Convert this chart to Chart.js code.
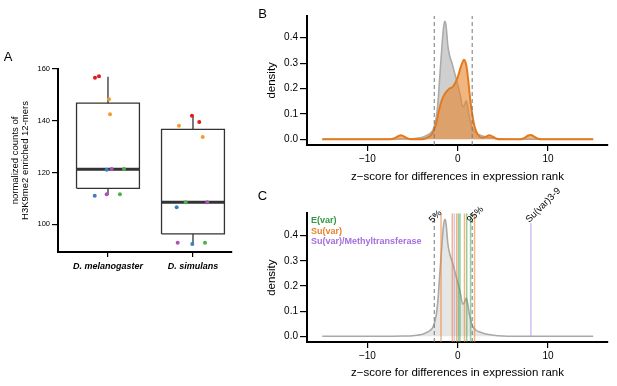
<!DOCTYPE html>
<html>
<head>
<meta charset="utf-8">
<script src="https://cdn.jsdelivr.net/npm/chart.js@4.4.1/dist/chart.umd.min.js"></script>
<style>
  body { margin: 0; background: #fff; }
  #wrap { position: relative; width: 617px; height: 386px; overflow: hidden; }
  canvas { position: absolute; }
</style>
</head>
<body>
<div id="wrap">
  <canvas id="boxChart" width="240" height="386" style="left:0;top:0"></canvas>
  <canvas id="densityChart" width="377" height="190" style="left:240px;top:0"></canvas>
  <canvas id="genesChart" width="377" height="208" style="left:240px;top:178px"></canvas>
</div>
<script>
// ---- panel A data ----
const categories = ['D. melanogaster', 'D. simulans'];
// [lower whisker, q1, median, q3, upper whisker]
const melStats = [111.3, 113.9, 121.3, 146.8, 157.0];
const simStats = [92.4, 96.3, 108.5, 136.7, 141.9];
const melCounts = [156.6, 157.2, 148.3, 142.5, 121.1, 121.4, 121.4, 111.0, 111.6, 111.6];
const melJitter = [0.847, 0.894, 1.012, 1.024, 0.985, 1.044, 1.188, 0.844, 0.985, 1.141];
const melGroups = [0, 0, 1, 1, 2, 3, 4, 2, 3, 4];
const simCounts = [141.9, 139.5, 138.1, 133.7, 106.6, 108.5, 108.5, 92.4, 92.9, 92.9];
const simJitter = [1.988, 2.074, 1.835, 2.114, 1.808, 1.914, 2.168, 1.992, 1.82, 2.141];
const simGroups = [0, 0, 1, 1, 2, 4, 3, 2, 3, 4];
const countTicks = [100, 120, 140, 160];

// ---- panel B / C data ----
const zTicks = [-10, 0, 10];
const densityTicks = [0, 0.1, 0.2, 0.3, 0.4];
const allGenesZ = [-15, -8, -6, -5, -4.5, -4, -3.5, -3, -2.7, -2.4, -2.2, -2.0, -1.8, -1.6, -1.45, -1.3, -1.1, -0.9, -0.6, -0.3, 0, 0.3, 0.55, 0.75, 0.95, 1.1, 1.3, 1.6, 2.0, 2.5, 3.0, 4.0, 5.0, 6.0, 15];
const allGenesDensity = [0, 0, 0.001, 0.002, 0.004, 0.007, 0.014, 0.025, 0.04, 0.08, 0.14, 0.24, 0.34, 0.43, 0.465, 0.45, 0.37, 0.33, 0.295, 0.255, 0.215, 0.17, 0.128, 0.135, 0.152, 0.13, 0.085, 0.045, 0.025, 0.016, 0.01, 0.004, 0.001, 0, 0];
const pevZ = [-15, -7.5, -7, -6.6, -6.3, -6.0, -5.6, -5.2, -4, -3.5, -3.0, -2.7, -2.4, -2.1, -1.8, -1.5, -1.2, -0.9, -0.6, -0.3, 0, 0.3, 0.55, 0.7, 0.85, 1.0, 1.2, 1.4, 1.6, 1.8, 2.0, 2.3, 2.7, 3.1, 3.5, 3.9, 4.3, 4.8, 7.0, 7.4, 7.8, 8.1, 8.5, 8.9, 9.3, 15];
const pevDensity = [0, 0, 0.004, 0.012, 0.016, 0.012, 0.004, 0, 0, 0.004, 0.015, 0.03, 0.06, 0.11, 0.15, 0.175, 0.19, 0.2, 0.205, 0.22, 0.245, 0.28, 0.305, 0.313, 0.305, 0.28, 0.22, 0.15, 0.1, 0.06, 0.035, 0.015, 0.006, 0.01, 0.016, 0.01, 0.002, 0, 0, 0.006, 0.015, 0.017, 0.01, 0.002, 0, 0];
const cutoffs = [-2.6, 1.6];
const cutoffLabels = ['5%', '95%'];
const evarGenes = [0.09, 0.25, 1.0, 1.42];
const suvarGenes = [-1.85, -0.6, -0.11, 0.75, 1.86];
const methylGenes = [-0.37];
const suvar39 = 8.1;
const suvar39Top = 0.45;

const FONT = "'Liberation Sans', Arial, sans-serif";
Chart.defaults.font.family = FONT;
Chart.defaults.color = '#000';
Chart.defaults.animation = false;

const groupColors = ['#e41a1c', '#f39b2f', '#3a7fc1', '#a853b5', '#4daf4a'];
const BOX_HALF = 0.37;

function pts(xs, ys) {
    return xs.map((x, i) => ({ x: x, y: ys[i] }));
}
function minus(v) {
    return v < 0 ? '\u2212' + Math.abs(v) : String(v);
}

function panelLetter(letter, x, y) {
    return {
        id: 'letter' + letter,
        afterDraw(chart) {
            const ctx = chart.ctx;
            ctx.save();
            ctx.font = '13px ' + FONT;
            ctx.fillStyle = '#000';
            ctx.textAlign = 'center';
            ctx.textBaseline = 'middle';
            ctx.fillText(letter, x, y);
            ctx.restore();
        }
    };
}

function axisStyle(tickLen) {
    return {
        border: { display: true, color: '#000', width: 2 },
        grid: { display: true, drawOnChartArea: false, drawTicks: true, tickLength: tickLen, color: '#000', lineWidth: 1.2 }
    };
}

// ---------------- panel A ----------------
function boxDatasets(c, s) {
    const line = { showLine: true, pointRadius: 0, borderColor: '#333', borderWidth: 1.3, fill: false };
    return [
        Object.assign({}, line, { data: [{x: c - BOX_HALF, y: s[2]}, {x: c + BOX_HALF, y: s[2]}], borderWidth: 3 }),
        Object.assign({}, line, { data: [
            {x: c - BOX_HALF, y: s[1]}, {x: c + BOX_HALF, y: s[1]}, {x: c + BOX_HALF, y: s[3]},
            {x: c - BOX_HALF, y: s[3]}, {x: c - BOX_HALF, y: s[1]}] }),
        Object.assign({}, line, { data: [{x: c, y: s[3]}, {x: c, y: s[4]}] }),
        Object.assign({}, line, { data: [{x: c, y: s[0]}, {x: c, y: s[1]}] })
    ];
}
function pointDataset(jit, vals, groups) {
    return {
        data: pts(jit, vals),
        showLine: false,
        pointRadius: 2,
        pointBorderWidth: 0,
        pointBackgroundColor: groups.map(g => groupColors[g]),
        pointBorderColor: groups.map(g => groupColors[g])
    };
}

new Chart(document.getElementById('boxChart'), {
    type: 'scatter',
    data: {
        datasets: [
            pointDataset(melJitter, melCounts, melGroups),
            pointDataset(simJitter, simCounts, simGroups),
            ...boxDatasets(1, melStats),
            ...boxDatasets(2, simStats)
        ]
    },
    options: {
        responsive: false,
        layout: { padding: { top: 69, right: 8, left: 0, bottom: 94 } },
        plugins: { legend: { display: false }, tooltip: { enabled: false } },
        scales: {
            x: Object.assign(axisStyle(5), {
                type: 'linear', min: 0.412, max: 2.459,
                afterBuildTicks: s => { s.ticks = [1, 2].map(v => ({ value: v })); },
                afterFit: s => { s.height = 40; },
                ticks: {
                    autoSkip: false, maxRotation: 0, padding: 4,
                    font: { size: 9, weight: 'bold', style: 'italic' },
                    callback: v => categories[v - 1]
                }
            }),
            y: Object.assign(axisStyle(6), {
                type: 'linear', min: 89.3, max: 160,
                afterBuildTicks: s => { s.ticks = countTicks.map(v => ({ value: v })); },
                afterFit: s => { s.width = 58; },
                ticks: { autoSkip: false, padding: 2, font: { size: 7.5 } },
                title: {
                    display: true,
                    text: ['normalized counts of', 'H3K9me2 enriched 12-mers'],
                    font: { size: 9.5, lineHeight: 1.1 },
                    padding: { top: 9.8 }
                }
            })
        }
    },
    plugins: [panelLetter('A', 8, 57)]
});

// ---------------- panels B and C ----------------
const Z_MIN = -16.69, Z_MAX = 16.64;

function densityScales(yMin, yMax, xHeight) {
    return {
        x: Object.assign(axisStyle(6), {
            type: 'linear', min: Z_MIN, max: Z_MAX,
            afterBuildTicks: s => { s.ticks = zTicks.map(v => ({ value: v })); },
            afterFit: s => { s.height = xHeight; },
            ticks: { autoSkip: false, maxRotation: 0, padding: 2, font: { size: 10 }, callback: v => minus(v) },
            title: {
                display: true,
                text: 'z\u2212score for differences in expression rank',
                font: { size: 11.5 },
                padding: { bottom: 6.1 }
            }
        }),
        y: Object.assign(axisStyle(7), {
            type: 'linear', min: yMin, max: yMax,
            afterBuildTicks: s => { s.ticks = densityTicks.map(v => ({ value: v })); },
            afterFit: s => { s.width = 67; },
            ticks: { autoSkip: false, padding: 2, font: { size: 10 }, callback: v => v.toFixed(1) },
            title: { display: true, text: 'density', font: { size: 11.5 }, padding: { top: 24.8 } }
        })
    };
}

function vline(x, y0, y1, color, width, dash) {
    return {
        data: [{ x: x, y: y0 }, { x: x, y: y1 }],
        showLine: true, pointRadius: 0, fill: false,
        borderColor: color, borderWidth: width, borderDash: dash || []
    };
}

function densityDataset(xs, ys, line, area, width) {
    return {
        data: pts(xs, ys),
        showLine: true, pointRadius: 0,
        borderColor: line, backgroundColor: area, borderWidth: width,
        fill: 'origin', cubicInterpolationMode: 'monotone'
    };
}

const B_MIN = -0.0224, B_MAX = 0.4866;
new Chart(document.getElementById('densityChart'), {
    type: 'scatter',
    data: {
        datasets: [
            ...cutoffs.map(c => vline(c, B_MIN, B_MAX, '#777', 1, [4, 3])),
            densityDataset(pevZ, pevDensity, '#e57a1c', 'rgba(232,134,44,0.6)', 2),
            densityDataset(allGenesZ, allGenesDensity, '#ababab', 'rgba(195,195,195,0.8)', 1.6)
        ]
    },
    options: {
        responsive: false,
        layout: { padding: { top: 15.7, right: 9, left: 0, bottom: 0 } },
        plugins: { legend: { display: false }, tooltip: { enabled: false } },
        scales: densityScales(B_MIN, B_MAX, 45)
    },
    plugins: [panelLetter('B', 22.5, 14.7)]
});

const C_MIN = -0.0227, C_MAX = 0.489;
const labelPlugin = {
    id: 'geneLabels',
    afterDraw(chart) {
        const ctx = chart.ctx;
        const xs = chart.scales.x;
        const top = chart.chartArea.top;
        const marks = cutoffs.map((c, i) => [c, cutoffLabels[i], top]);
        marks.push([suvar39, 'Su(var)3-9', chart.scales.y.getPixelForValue(suvar39Top) - 10]);
        ctx.save();
        ctx.fillStyle = '#000';
        ctx.font = '9.5px ' + FONT;
        ctx.textAlign = 'left';
        ctx.textBaseline = 'middle';
        marks.forEach(m => {
            ctx.save();
            ctx.translate(xs.getPixelForValue(m[0]) - 3.5, m[2] + 8);
            ctx.rotate(-Math.PI / 4);
            ctx.fillText(m[1], 0, 0);
            ctx.restore();
        });
        // colour key
        ctx.font = 'bold 9px ' + FONT;
        const key = [['E(var)', '#2f9a3f'], ['Su(var)', '#e8822a'], ['Su(var)/Methyltransferase', '#a46de0']];
        key.forEach((k, i) => {
            ctx.fillStyle = k[1];
            ctx.fillText(k[0], 71, 42.5 + i * 10.7);
        });
        ctx.restore();
    }
};

new Chart(document.getElementById('genesChart'), {
    type: 'scatter',
    data: {
        datasets: [
            ...cutoffs.map(c => vline(c, C_MIN, C_MAX, '#777', 1, [4, 3])),
            ...evarGenes.map(g => vline(g, C_MIN, C_MAX, 'rgba(60,170,85,0.55)', 1.5)),
            ...suvarGenes.map(g => vline(g, C_MIN, C_MAX, 'rgba(238,130,50,0.6)', 1.5)),
            ...methylGenes.map(g => vline(g, C_MIN, C_MAX, 'rgba(175,140,230,0.5)', 1.5)),
            vline(suvar39, 0, suvar39Top, 'rgba(175,150,235,0.6)', 1.5),
            densityDataset(allGenesZ, allGenesDensity, '#a9a9a9', 'rgba(205,205,205,0.5)', 1.6)
        ]
    },
    options: {
        responsive: false,
        layout: { padding: { top: 35.3, right: 9, left: 0, bottom: 0 } },
        plugins: { legend: { display: false }, tooltip: { enabled: false } },
        scales: densityScales(C_MIN, C_MAX, 44)
    },
    plugins: [panelLetter('C', 22.5, 18.5), labelPlugin]
});
</script>
</body>
</html>
